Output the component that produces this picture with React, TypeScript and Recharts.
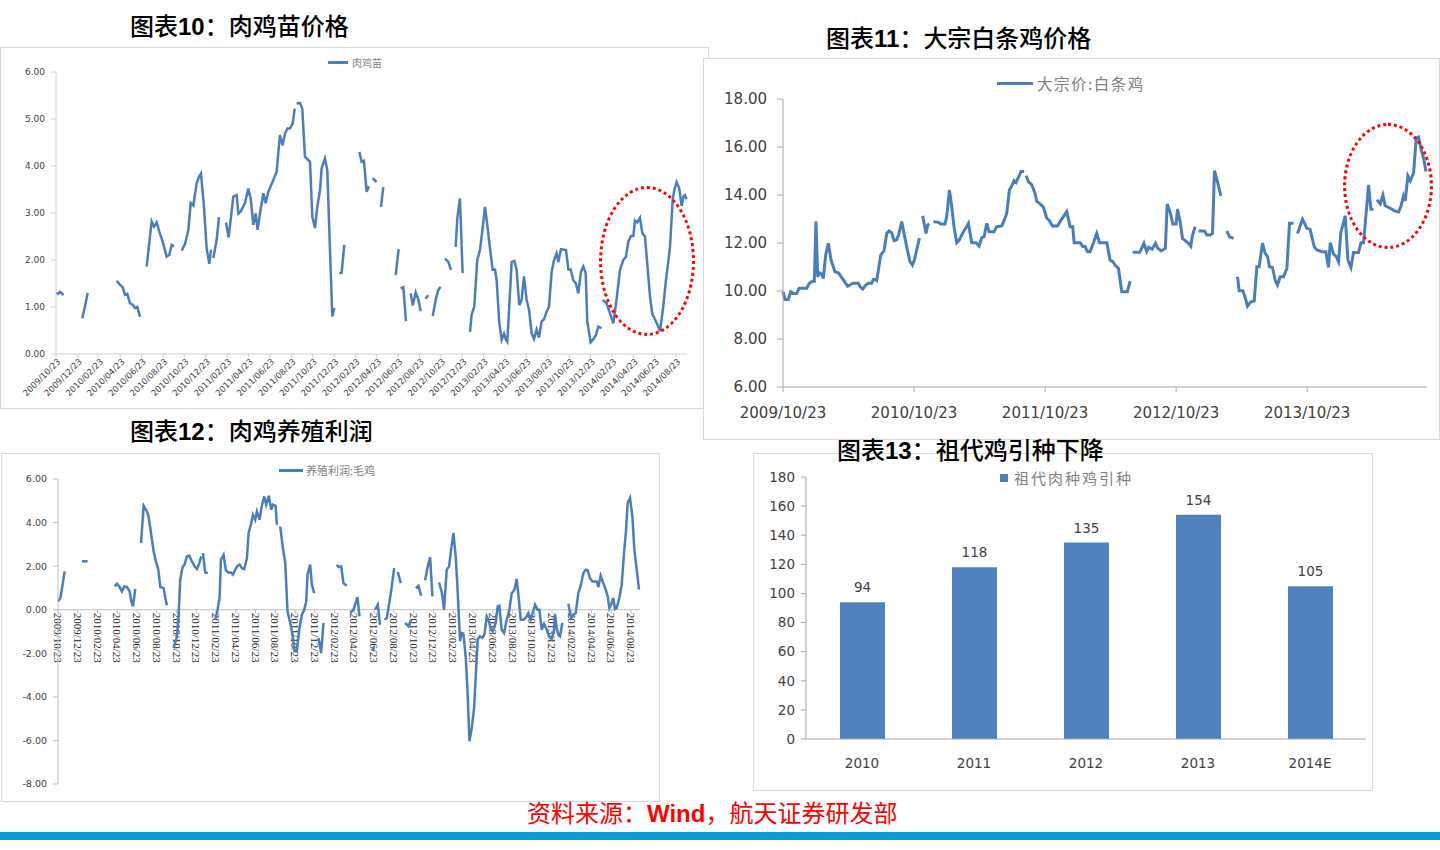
import React from 'react'
import { LineChart, Line, XAxis, YAxis, ReferenceLine, BarChart, Bar, LabelList } from 'recharts'

// x values are months counted from 2009/10/23, pairs are [month, value].
// Each inner list is an unbroken run of the weekly series; gaps sit between runs.
const chickSegments: number[][][] = [
  [[0, 1.3], [0.22, 1.28], [0.37, 1.32], [0.53, 1.3], [0.69, 1.25]],
  [[2.46, 0.76], [2.71, 1.01], [2.96, 1.3]],
  [[5.68, 1.56], [5.99, 1.47], [6.24, 1.42], [6.45, 1.26], [6.67, 1.28], [6.92, 1.08], [7.17, 1.05], [7.39, 0.98], [7.61, 1.0], [7.86, 0.79]],
  [[8.48, 1.86], [8.95, 2.82], [9.17, 2.71], [9.42, 2.8], [9.67, 2.6], [9.98, 2.39], [10.35, 2.07], [10.6, 2.11], [10.82, 2.32], [11.04, 2.29]],
  [[11.76, 2.2], [12.07, 2.34], [12.38, 2.64], [12.6, 3.21], [12.85, 3.16], [13.16, 3.63], [13.38, 3.77], [13.56, 3.84], [13.84, 3.14], [14.09, 2.25], [14.34, 1.92], [14.5, 2.22]],
  [[14.72, 2.04], [15.03, 2.43], [15.25, 2.91]],
  [[15.9, 2.8], [16.15, 2.48], [16.59, 3.35], [16.9, 3.38], [17.06, 2.99], [17.27, 3.03], [17.68, 3.21], [17.99, 3.52], [18.21, 3.31], [18.46, 2.75], [18.68, 2.99], [18.86, 2.64], [19.08, 2.99], [19.4, 3.42], [19.61, 3.21], [19.86, 3.45], [20.33, 3.7], [20.64, 3.88], [20.95, 4.66], [21.2, 4.44], [21.42, 4.69], [21.64, 4.8], [21.89, 4.8], [22.14, 4.9], [22.33, 5.22]],
  [[22.51, 5.33], [22.83, 5.34], [23.04, 5.22], [23.29, 4.2], [23.76, 4.09], [23.98, 2.92], [24.23, 2.68], [24.45, 3.14], [24.7, 3.49], [24.85, 3.95], [25.16, 4.16], [25.38, 3.91], [25.63, 2.22], [25.85, 0.8], [26.04, 0.98]],
  [[26.5, 1.72], [26.72, 1.73], [26.97, 2.32]],
  [[28.38, 4.3], [28.59, 4.09], [28.81, 4.11], [29.06, 3.45], [29.28, 3.57]],
  [[29.62, 3.74], [29.99, 3.66]],
  [[30.4, 3.13], [30.62, 3.55]],
  [[31.78, 1.68], [32.05, 2.23]],
  [[32.24, 1.4], [32.49, 1.42], [32.74, 0.7]],
  [[33.18, 1.29], [33.37, 1.03], [33.65, 1.31], [33.9, 1.16], [34.12, 0.91]],
  [[34.55, 1.18], [34.83, 1.25]],
  [[35.24, 0.81], [35.55, 1.18], [35.76, 1.36], [35.98, 1.43]],
  [[36.39, 2.03], [36.7, 1.96], [36.95, 1.79]],
  [[37.39, 2.28], [37.54, 2.88], [37.79, 3.31], [38.04, 1.72]],
  [[38.73, 0.47], [38.88, 0.83], [39.13, 1.01], [39.41, 2.0], [39.66, 2.21], [39.91, 2.67], [40.13, 3.13], [40.35, 2.74], [40.6, 2.25], [40.85, 1.79], [41.07, 1.8], [41.22, 1.57], [41.47, 0.66], [41.69, 0.3], [41.91, 0.43], [42.1, 0.3], [42.22, 0.26], [42.63, 1.96], [42.88, 1.98], [43.09, 1.79], [43.34, 1.04], [43.56, 1.15], [43.78, 1.65], [44.03, 1.15], [44.25, 0.94], [44.5, 0.44], [44.72, 0.32], [44.96, 0.52], [45.18, 0.35], [45.43, 0.69], [45.65, 0.74], [45.9, 0.9], [46.12, 1.01], [46.37, 1.75], [46.59, 2.0], [46.83, 2.14], [46.99, 1.96], [47.24, 2.23], [47.71, 2.21], [47.93, 1.8], [48.15, 1.8], [48.39, 1.57], [48.64, 1.5], [48.86, 1.29], [49.11, 1.75], [49.33, 1.86], [49.55, 1.72], [49.7, 0.7], [50.01, 0.25], [50.26, 0.31], [50.51, 0.4], [50.73, 0.58], [51.04, 0.55]],
  [[51.14, 1.15], [51.51, 1.08], [51.82, 0.87], [52.14, 0.65], [52.45, 1.18], [52.76, 1.79], [53.07, 2.0], [53.32, 2.07], [53.54, 2.39], [53.79, 2.51], [54.01, 2.51], [54.16, 2.84], [54.38, 2.8], [54.63, 2.9], [54.85, 2.57], [55.1, 2.5], [55.35, 1.82], [55.57, 1.22], [55.79, 0.85], [56.03, 0.74], [56.28, 0.62], [56.5, 0.48], [56.81, 1.01], [57.06, 1.57], [57.28, 1.96], [57.44, 2.28], [57.69, 3.28], [57.84, 3.49], [58.06, 3.66], [58.31, 3.52], [58.53, 3.15], [58.69, 3.35], [58.84, 3.38], [58.99, 3.29]],
]

const broilerSegments: number[][][] = [
  [[0, 9.97], [0.18, 9.65], [0.49, 9.65], [0.7, 9.97], [0.95, 9.9], [1.25, 9.9], [1.47, 10.11], [2.17, 10.11], [2.41, 10.32], [2.69, 10.41], [2.87, 10.41], [3.02, 12.89], [3.18, 10.59], [3.33, 10.76], [3.54, 10.7], [3.69, 10.52], [3.91, 11.5], [4.15, 11.99], [4.4, 11.29], [4.76, 10.8], [5.07, 10.76], [5.37, 10.57], [5.68, 10.36], [5.92, 10.2], [6.14, 10.25], [6.38, 10.32], [6.9, 10.32], [7.05, 10.18], [7.3, 10.08], [7.57, 10.25], [7.82, 10.32], [8.12, 10.32], [8.27, 10.48], [8.43, 10.48], [8.58, 10.43], [8.95, 11.5], [9.25, 11.68], [9.5, 12.4], [9.71, 12.5], [9.95, 12.43], [10.17, 12.1], [10.41, 12.13], [10.6, 12.36], [10.87, 12.89], [11.11, 12.34], [11.39, 11.71], [11.63, 11.22], [11.85, 11.08], [12.03, 11.29], [12.24, 11.71], [12.49, 12.2]],
  [[12.79, 13.13], [13.1, 12.4], [13.25, 12.75], [13.4, 12.79]],
  [[13.77, 12.89], [14.23, 12.86], [14.44, 12.79], [14.84, 12.79], [14.99, 13.1], [15.24, 14.21], [15.45, 13.52], [15.66, 12.68], [15.91, 12.01], [16.15, 12.13], [16.52, 12.47], [16.82, 12.68], [16.98, 12.82], [17.28, 12.01], [17.68, 12.01], [17.95, 11.87], [18.2, 12.22], [18.41, 12.26], [18.66, 12.82], [18.87, 12.47], [19.33, 12.47], [19.57, 12.68], [20.03, 12.71], [20.27, 12.96], [20.49, 13.24], [20.73, 14.21], [20.95, 14.38], [21.16, 14.6], [21.34, 14.52], [21.62, 14.8], [21.8, 14.98], [22.08, 14.98]],
  [[22.26, 14.8], [22.47, 14.56], [22.78, 14.42], [23.08, 14.07], [23.24, 13.73], [23.54, 13.63], [23.85, 13.49], [24.15, 13.03], [24.4, 12.93], [24.67, 12.71], [25.13, 12.71], [25.37, 12.89], [25.68, 13.1], [25.98, 13.31], [26.29, 12.68], [26.53, 12.68], [26.66, 12.01], [27.21, 12.01], [27.45, 11.85], [27.66, 11.85], [27.88, 11.64], [28.12, 11.64], [28.43, 12.01], [28.73, 12.4], [28.98, 12.01], [29.65, 12.01], [29.95, 11.29], [30.2, 11.22], [30.41, 11.08], [30.72, 10.94], [31.02, 9.97], [31.53, 9.97], [31.79, 10.41]],
  [[32.02, 11.61], [32.67, 11.61], [33.05, 11.99], [33.3, 11.64], [33.5, 11.82], [33.8, 11.74], [34.11, 11.99], [34.32, 11.78], [34.63, 11.67], [35.01, 11.78], [35.18, 13.62], [35.48, 13.24], [35.69, 12.79], [36.0, 12.79], [36.12, 13.41], [36.37, 12.89], [36.58, 12.19], [36.82, 12.1], [37.13, 11.99], [37.34, 11.87], [37.5, 12.33], [37.74, 12.68]],
  [[38.05, 12.5], [38.6, 12.5], [38.81, 12.33], [39.11, 12.33], [39.33, 12.4], [39.51, 15.01], [39.82, 14.49], [40.09, 13.96]],
  [[40.64, 12.5], [40.89, 12.26], [41.25, 12.19]],
  [[41.62, 10.59], [41.77, 10.01], [42.11, 10.01], [42.32, 9.73], [42.53, 9.37], [42.84, 9.55], [43.15, 9.59], [43.39, 11.01], [43.6, 11.01], [43.91, 11.99], [44.15, 11.57], [44.37, 11.43], [44.55, 11.01], [44.82, 10.98], [45.07, 10.45], [45.28, 10.25], [45.53, 10.59], [45.83, 10.59], [46.14, 10.94], [46.38, 12.82], [46.75, 12.82]],
  [[47.11, 12.4], [47.57, 12.99], [47.97, 12.61], [48.27, 12.57], [48.64, 11.85], [48.89, 11.71], [49.34, 11.64], [49.71, 11.64], [49.95, 10.98], [50.11, 12.01], [50.41, 11.54], [50.66, 11.43], [50.87, 11.22], [51.08, 12.43], [51.48, 13.13], [51.73, 11.29], [52.0, 10.98], [52.24, 11.6], [52.7, 11.6], [52.92, 12.01], [53.16, 12.01], [53.62, 14.42], [53.83, 13.41], [54.08, 13.41]],
  [[54.38, 13.8], [54.69, 13.63], [54.93, 14.0], [55.15, 13.55], [55.6, 13.45], [56.0, 13.34], [56.37, 13.29], [56.58, 13.52], [56.82, 13.96], [56.98, 13.76], [57.22, 14.8], [57.44, 14.6], [57.74, 14.91], [57.98, 16.37], [58.2, 16.41], [58.44, 15.88], [58.66, 15.54], [58.87, 14.98]],
]

const profitSegments: number[][][] = [
  [[0, 0.38], [0.24, 0.54], [0.47, 1.15], [0.67, 1.76]],
  [[2.43, 2.22], [3.0, 2.22]],
  [[5.73, 1.07], [5.97, 1.19], [6.24, 1.04], [6.47, 0.84], [6.71, 1.07], [6.98, 1.04], [7.25, 0.84], [7.42, 0.38], [7.59, 0.15], [7.82, 0.95]],
  [[8.4, 3.06], [8.67, 4.77], [9.0, 4.51], [9.17, 4.28], [9.41, 3.52], [9.68, 2.68], [9.91, 2.22], [10.15, 1.84], [10.35, 1.04], [10.69, 0.99], [10.86, 0.54], [11.02, 0.2]],
  [[11.7, -1.76], [12.04, -1.22], [12.21, -0.23], [12.37, 1.38], [12.61, 1.96], [12.81, 2.07], [13.05, 2.45], [13.28, 2.48], [13.55, 2.22], [13.82, 1.99], [14.06, 1.87], [14.3, 2.14], [14.5, 2.45]],
  [[14.67, 2.6], [14.9, 1.71], [15.17, 1.68]],
  [[15.91, -0.46], [16.15, 0], [16.35, 0.54], [16.49, 2.3], [16.76, 2.52], [16.99, 1.81], [17.23, 1.71], [17.5, 1.71], [17.7, 1.61], [17.94, 1.84], [18.17, 2.02], [18.38, 2.07], [18.61, 1.91], [18.85, 1.87], [19.12, 2.37], [19.29, 3.52], [19.52, 3.9], [19.73, 4.36], [19.96, 4.13], [20.13, 4.51], [20.4, 4.13], [20.63, 4.77], [20.87, 5.2], [21.07, 4.82], [21.34, 5.23], [21.58, 4.59], [21.75, 4.82], [22.02, 4.77], [22.15, 3.9]],
  [[22.49, 3.82], [22.76, 2.83], [23.0, 2.14], [23.23, -0.08], [23.5, -0.61], [23.74, -1.15], [23.94, -1.91], [24.17, -1.91], [24.41, -0.92], [24.68, -0.23], [24.92, 0], [25.12, 0.38], [25.25, 1.61], [25.52, 2.07], [25.69, 1.15], [25.93, 0.76]],
  [[26.37, -1.3], [26.63, -1.99], [26.87, -0.61]],
  [[28.22, 2.07], [28.39, 1.96], [28.66, 1.99], [28.89, 1.22], [29.23, 1.1]],
  [[29.57, -0.15], [29.9, 0], [30.31, 0.58], [30.51, -0.31]],
  [[31.86, -1.91], [32.0, -1.68]],
  [[32.09, 0], [32.36, 0.23], [32.59, -0.69]],
  [[33.04, -0.46], [33.28, -0.38], [33.55, 0.38], [33.78, 1.07], [34.02, 1.91]],
  [[34.39, 1.73], [34.69, 1.22]],
  [[35.13, -0.61], [35.47, -0.76], [35.74, -0.46]],
  [[36.21, 0.99], [36.48, 1.1], [36.75, 0.64]],
  [[37.15, 1.35], [37.39, 1.91], [37.66, 2.42], [37.89, 0.61]],
  [[38.57, 1.25], [38.84, 0.8], [39.07, 0], [39.34, 1.84], [39.58, 1.99], [39.78, 2.75], [40.02, 3.52], [40.25, 2.45], [40.42, 1.07], [40.69, -1.45], [40.86, -1.07], [41.03, -1.1], [41.27, -2.22], [41.44, -3.67], [41.64, -6.04], [41.87, -5.43], [42.11, -4.51], [42.31, -2.75], [42.48, -1.35], [42.71, -1.22], [42.95, -1.3], [43.15, -1.15], [43.39, -0.31], [43.62, -0.54], [43.83, -0.92], [44.0, -0.99], [44.3, -0.61], [44.5, 0.15], [44.67, 0.18], [44.9, -0.92], [45.14, -1.07], [45.41, -0.46], [45.68, 0], [45.92, 0.76], [46.19, 0.92], [46.42, 1.41], [46.59, 0.69], [46.83, -0.46], [47.1, -0.46], [47.33, -0.38], [47.6, -0.15], [47.84, -0.46], [48.04, -0.15], [48.28, 0.23], [48.52, 0], [48.72, 0], [48.95, -0.92], [49.19, -0.64], [49.46, -0.92], [49.69, -1.22], [49.96, -1.35], [50.2, -0.92], [50.3, -0.2], [50.47, -0.84], [50.64, -1.15], [50.81, -1.22], [51.04, -0.61]],
  [[51.65, 0.28], [51.92, -0.38], [52.15, -0.23], [52.39, -0.15], [52.66, 0.76], [52.9, 1.1], [53.17, 1.68], [53.4, 1.84], [53.61, 1.81], [53.84, 1.45], [54.08, 1.3], [54.52, 1.3], [54.69, 1.04], [54.92, 1.56], [55.19, 1.22], [55.43, 0.92], [55.63, 0.61], [55.8, 0.08], [56.04, 0.31], [56.2, 0.54], [56.37, 0.03], [56.54, 0.08], [56.81, 0.54], [57.05, 1.15], [57.28, 2.6], [57.48, 3.6], [57.65, 4.9], [57.89, 5.13], [58.13, 4.28], [58.33, 2.75], [58.57, 1.84], [58.8, 0.92]],
]

const gpYears = ['2010', '2011', '2012', '2013', '2014E']
const gpImports = [94, 118, 135, 154, 105]

const biMonthTicks = Array.from({ length: 30 }, (_, i) => i * 2)
const yearTicks = [0, 12, 24, 36, 48]
const chickYTicks = [0, 1, 2, 3, 4, 5, 6]
const broilerYTicks = [6, 8, 10, 12, 14, 16, 18]
const profitYTicks = [-8, -6, -4, -2, 0, 2, 4, 6]
const gpYTicks = [0, 20, 40, 60, 80, 100, 120, 140, 160, 180]

const LINE = '#4A7EBB'
const BAR = '#4F81BD'
const CJK = '"Noto Sans CJK SC", sans-serif'
const NUM = '"DejaVu Sans", sans-serif'

function toRows(segments: number[][][]) {
  const rows: { m: number; v: number | null }[] = []
  segments.forEach((seg, i) => {
    seg.forEach(([m, v]) => rows.push({ m, v }))
    if (i < segments.length - 1) rows.push({ m: seg[seg.length - 1][0], v: null })
  })
  return rows
}

const monthLabel = (m: number) => {
  const t = 9 + m
  const y = 2009 + Math.floor(t / 12)
  const mo = (t % 12) + 1
  return `${y}/${String(mo).padStart(2, '0')}/23`
}

const chickRows = toRows(chickSegments)
const broilerRows = toRows(broilerSegments)
const profitRows = toRows(profitSegments)
const gpRows = gpYears.map((year, i) => ({ year, value: gpImports[i] }))

const abs = (left: number, top: number, extra: React.CSSProperties = {}): React.CSSProperties => ({
  position: 'absolute', left, top, ...extra,
})

function Box({ left, top, width, height }: { left: number; top: number; width: number; height: number }) {
  return (
    <div style={abs(left, top, { width, height, border: '1px solid #d9d9d9', boxSizing: 'border-box', background: '#fff' })} />
  )
}

function Title({ left, top, num, text }: { left: number; top: number; num: string; text: string }) {
  return (
    <div style={abs(left, top, { fontFamily: CJK, fontSize: 24, lineHeight: '24px', fontWeight: 500, color: '#000', whiteSpace: 'nowrap' })}>
      图表<b style={{ fontFamily: '"Liberation Sans", Arial, sans-serif', fontWeight: 700 }}>{num}</b>：{text}
    </div>
  )
}

function LineLegend({ left, top, lineW, gap, text, size, spacing = 0 }: { left: number; top: number; lineW: number; gap: number; text: string; size: number; spacing?: number }) {
  return (
    <div style={abs(left, top, { display: 'flex', alignItems: 'center', whiteSpace: 'nowrap' })}>
      <div style={{ width: lineW, height: 3, background: LINE, marginRight: gap }} />
      <span style={{ fontFamily: CJK, fontSize: size, color: '#7f7f7f', letterSpacing: spacing }}>{text}</span>
    </div>
  )
}

const DiagTick = (props: any) => {
  const { x, y, payload } = props
  const tx = x + 3
  const ty = y + 2
  return (
    <text x={tx} y={ty} transform={`rotate(-45, ${tx}, ${ty})`} textAnchor="end" dominantBaseline="central"
      fontSize={8.5} fontFamily={NUM} fill="#404040">
      {monthLabel(payload.value)}
    </text>
  )
}

const profitTickLabel = (m: number) => (p: any) => {
  const vb = p.viewBox || {}
  const tx = vb.x
  const ty = vb.y + 3
  return (
    <text x={tx} y={ty} transform={`rotate(90, ${tx}, ${ty})`} textAnchor="start" dominantBaseline="central"
      fontSize={11} fontFamily='"Liberation Serif", serif' fill="#262626">
      {monthLabel(m)}
    </text>
  )
}

function ChickChart() {
  return (
    <div style={abs(0, 47)}>
      <LineChart width={709} height={361} data={chickRows} margin={{ top: 25, right: 22, left: 0, bottom: 0 }}>
        <XAxis dataKey="m" type="number" domain={[0, 59.03]} ticks={biMonthTicks} interval={0} height={54}
          tickSize={4} tickMargin={0} tick={<DiagTick />} axisLine={{ stroke: '#d0d0d0' }} tickLine={{ stroke: '#d0d0d0' }} />
        <YAxis domain={[0, 6]} ticks={chickYTicks} interval={0} width={56} tickSize={5} tickMargin={6}
          tickFormatter={(v: number) => v.toFixed(2)} tick={{ fontSize: 9, fill: '#404040', fontFamily: NUM }}
          axisLine={{ stroke: '#d0d0d0' }} tickLine={{ stroke: '#d0d0d0' }} />
        <Line dataKey="v" type="linear" stroke={LINE} strokeWidth={2.5} dot={false} connectNulls={false} isAnimationActive={false} />
      </LineChart>
    </div>
  )
}

function BroilerChart() {
  return (
    <div style={abs(703, 58)}>
      <LineChart width={736} height={381} data={broilerRows} margin={{ top: 41, right: 12, left: 0, bottom: 0 }}>
        <XAxis dataKey="m" type="number" domain={[0, 58.97]} ticks={yearTicks} interval={0} height={52}
          tickSize={5} tickMargin={15} tickFormatter={monthLabel}
          tick={{ fontSize: 15, fill: '#404040', fontFamily: NUM }}
          axisLine={{ stroke: '#a6a6a6' }} tickLine={{ stroke: '#a6a6a6' }} />
        <YAxis domain={[6, 18]} ticks={broilerYTicks} interval={0} width={80} tickSize={6} tickMargin={10}
          tickFormatter={(v: number) => v.toFixed(2)} tick={{ fontSize: 15, fill: '#404040', fontFamily: NUM }}
          axisLine={{ stroke: '#a6a6a6' }} tickLine={{ stroke: '#a6a6a6' }} />
        <Line dataKey="v" type="linear" stroke={LINE} strokeWidth={3} dot={false} connectNulls={false} isAnimationActive={false} />
      </LineChart>
    </div>
  )
}

function ProfitChart() {
  return (
    <div style={abs(0, 453)}>
      <LineChart width={660} height={348} data={profitRows} margin={{ top: 26, right: 20, left: 0, bottom: 17 }}>
        <XAxis dataKey="m" type="number" domain={[0, 58.9]} hide />
        <YAxis domain={[-8, 6]} ticks={profitYTicks} interval={0} width={58} tickSize={5} tickMargin={6}
          tickFormatter={(v: number) => v.toFixed(2)} tick={{ fontSize: 9.5, fill: '#404040', fontFamily: NUM }}
          axisLine={{ stroke: '#bfbfbf' }} tickLine={{ stroke: '#bfbfbf' }} />
        <ReferenceLine y={0} stroke="#bfbfbf" />
        {biMonthTicks.map(m => (
          <ReferenceLine key={m} segment={[{ x: m, y: 0 }, { x: m, y: -0.18 }]} stroke="#bfbfbf"
            label={profitTickLabel(m)} />
        ))}
        <Line dataKey="v" type="linear" stroke={LINE} strokeWidth={2.5} dot={false} connectNulls={false} isAnimationActive={false} />
      </LineChart>
    </div>
  )
}

function GrandParentChart() {
  return (
    <div style={abs(753, 453)}>
      <BarChart width={619} height={337} data={gpRows} margin={{ top: 24, right: 6, left: 0, bottom: 0 }}>
        <XAxis dataKey="year" height={51} tickLine={false} tickMargin={13}
          tick={{ fontSize: 13.5, fill: '#404040', fontFamily: NUM }} axisLine={{ stroke: '#a6a6a6' }} />
        <YAxis domain={[0, 180]} ticks={gpYTicks} interval={0} width={53} tickSize={5} tickMargin={6}
          tick={{ fontSize: 13.5, fill: '#404040', fontFamily: NUM }}
          axisLine={{ stroke: '#a6a6a6' }} tickLine={{ stroke: '#a6a6a6' }} />
        <Bar dataKey="value" fill={BAR} barSize={45} isAnimationActive={false}>
          <LabelList dataKey="value" position="top" offset={10} fill="#404040" fontSize={13.5} fontFamily={NUM} />
        </Bar>
      </BarChart>
    </div>
  )
}

export default function App() {
  return (
    <div style={abs(0, 0, { width: 1440, height: 850, background: '#fff', overflow: 'hidden' })}>
      <Box left={0} top={47} width={709} height={362} />
      <ChickChart />
      <LineLegend left={328} top={55} lineW={20} gap={4} text="肉鸡苗" size={10} />
      <div style={abs(599, 186, { width: 96, height: 150, border: '3px dotted #ff0000', borderRadius: '50%', boxSizing: 'border-box' })} />

      <Box left={703} top={58} width={737} height={382} />
      <BroilerChart />
      <LineLegend left={997} top={72} lineW={36} gap={4} text="大宗价:白条鸡" size={15.5} spacing={1.5} />
      <div style={abs(1343, 123, { width: 90, height: 126, border: '3px dotted #ff0000', borderRadius: '50%', boxSizing: 'border-box' })} />

      <Box left={1} top={453} width={659} height={349} />
      <ProfitChart />
      <LineLegend left={279} top={462} lineW={24} gap={3} text="养殖利润:毛鸡" size={11} />

      <Box left={753} top={453} width={620} height={338} />
      <GrandParentChart />
      <div style={abs(1000, 469, { display: 'flex', alignItems: 'center', whiteSpace: 'nowrap' })}>
        <div style={{ width: 8, height: 8, background: BAR, marginRight: 6 }} />
        <span style={{ fontFamily: CJK, fontSize: 15, lineHeight: '18px', color: '#7f7f7f', letterSpacing: 2 }}>祖代肉种鸡引种</span>
      </div>

      <Title left={130} top={13} num="10" text="肉鸡苗价格" />
      <Title left={826} top={25} num="11" text="大宗白条鸡价格" />
      <Title left={130} top={418} num="12" text="肉鸡养殖利润" />
      <Title left={837} top={437} num="13" text="祖代鸡引种下降" />

      <div style={abs(527, 797, { fontFamily: CJK, fontSize: 24, lineHeight: '30px', color: '#ff0000', whiteSpace: 'nowrap' })}>
        资料来源：<b style={{ fontFamily: '"Liberation Sans", Arial, sans-serif' }}>Wind</b>，航天证券研发部
      </div>
      <div style={abs(0, 832, { width: 1440, height: 8, background: '#0a9ad8' })} />
    </div>
  )
}
